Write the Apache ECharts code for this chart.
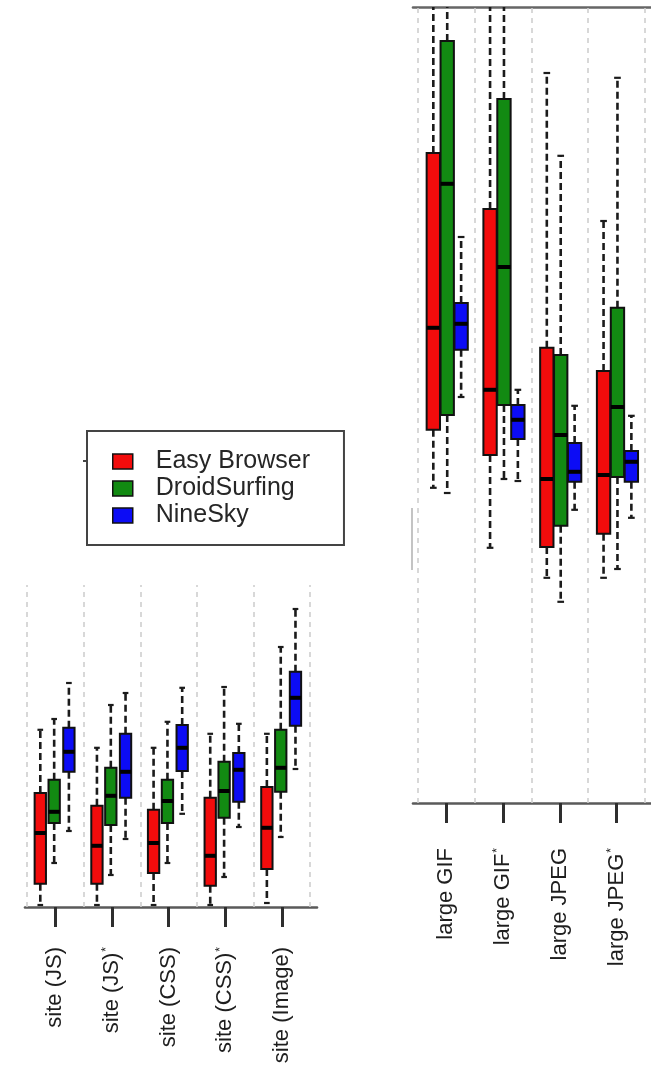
<!DOCTYPE html>
<html>
<head>
<meta charset="utf-8">
<title>Page load times by browser</title>
<script src="https://cdn.jsdelivr.net/npm/echarts@6/dist/echarts.min.js"></script>
<style>
  html, body { margin: 0; padding: 0; background: #ffffff; }
  #chart { width: 651px; height: 1068px; }
</style>
</head>
<body>
<div id="chart"></div>
<script>
// Categories of the two panels
const siteCategories = ['site (JS)', 'site (JS)*', 'site (CSS)', 'site (CSS)*', 'site (Image)'];
const largeCategories = ['large GIF', 'large GIF*', 'large JPEG', 'large JPEG*'];
const browsers = ['Easy Browser', 'DroidSurfing', 'NineSky'];

// Box statistics per category: [lower whisker, Q1, median, Q3, upper whisker]
const siteEasy = [
  [0.05, 0.58, 1.85, 2.85, 4.43],
  [0.05, 0.58, 1.53, 2.53, 3.98],
  [0.05, 0.85, 1.60, 2.43, 3.98],
  [0.05, 0.53, 1.28, 2.73, 4.33],
  [0.10, 0.95, 1.98, 3.00, 4.33]
];
const siteDroid = [
  [1.10, 2.10, 2.38, 3.18, 4.70],
  [0.80, 2.05, 2.78, 3.48, 5.05],
  [1.10, 2.10, 2.65, 3.18, 4.63],
  [0.75, 2.23, 2.90, 3.63, 5.50],
  [1.75, 2.88, 3.48, 4.43, 6.50]
];
const siteNine = [
  [1.90, 3.38, 3.88, 4.48, 5.60],
  [1.70, 2.73, 3.38, 4.33, 5.35],
  [2.33, 3.40, 3.98, 4.55, 5.48],
  [2.00, 2.63, 3.43, 3.85, 4.58],
  [3.45, 4.53, 5.23, 5.88, 7.45]
];
const largeEasy = [
  [7.88, 9.33, 11.88, 16.25, 21.0],
  [6.38, 8.70, 10.33, 14.85, 21.0],
  [5.63, 6.40, 8.10, 11.38, 18.25],
  [5.63, 6.73, 8.20, 10.80, 14.55]
];
const largeDroid = [
  [7.75, 9.70, 15.48, 19.05, 21.0],
  [8.10, 9.95, 13.40, 17.60, 21.0],
  [5.03, 6.93, 9.20, 11.20, 16.18],
  [5.85, 8.15, 9.90, 12.38, 18.13]
];
const largeNine = [
  [10.15, 11.33, 11.98, 12.50, 14.15],
  [8.05, 9.10, 9.58, 9.95, 10.33],
  [7.33, 8.03, 8.28, 9.00, 9.93],
  [7.13, 8.03, 8.53, 8.80, 9.68]
];

const colors = ['#f20c0c', '#128a12', '#0c0cf5'];

// Attach the 1-based category position to each box
function toRows(stats) {
  return stats.map((s, i) => [i + 1].concat(s));
}

// Draws one box with dashed whiskers, staples and a heavy median bar
function boxRenderer(offset, width) {
  return function (params, api) {
    const pos = api.value(0) + offset;
    const pLow = api.coord([pos, api.value(1)]);
    const xc = pLow[0];
    const yLow = pLow[1];
    const yQ1 = api.coord([pos, api.value(2)])[1];
    const yMed = api.coord([pos, api.value(3)])[1];
    const yQ3 = api.coord([pos, api.value(4)])[1];
    const yHigh = api.coord([pos, api.value(5)])[1];
    const w = api.size([width, 0])[0];
    const cap = w / 2;
    const whisker = { stroke: '#1b1b1b', lineWidth: 2.6, lineDash: [7, 4] };
    const staple = { stroke: '#1b1b1b', lineWidth: 2.2 };
    return {
      type: 'group',
      children: [
        { type: 'line', shape: { x1: xc, y1: yQ3, x2: xc, y2: yHigh }, style: whisker },
        { type: 'line', shape: { x1: xc, y1: yQ1, x2: xc, y2: yLow }, style: whisker },
        { type: 'line', shape: { x1: xc - cap / 2, y1: yHigh, x2: xc + cap / 2, y2: yHigh }, style: staple },
        { type: 'line', shape: { x1: xc - cap / 2, y1: yLow, x2: xc + cap / 2, y2: yLow }, style: staple },
        { type: 'rect', shape: { x: xc - w / 2, y: yQ3, width: w, height: yQ1 - yQ3 },
          style: { fill: api.visual('color'), stroke: '#111', lineWidth: 2 } },
        { type: 'line', shape: { x1: xc - w / 2, y1: yMed, x2: xc + w / 2, y2: yMed },
          style: { stroke: '#000', lineWidth: 4 } }
      ]
    };
  };
}

function separators(count) {
  const out = [];
  for (let i = 0; i <= count; i++) out.push({ xAxis: i + 0.5 });
  return out;
}

const sepStyle = { type: [5, 5], color: '#cfcfcf', width: 1.6 };

// Category names with a trailing '*' get a small raised asterisk
function labelText(name) {
  return name.endsWith('*') ? name.slice(0, -1) + '{s|*}' : name;
}

function bottomAxis(gridIndex, min, max, cats, margin, fontSize) {
  const positions = cats.map((c, i) => i + 1);
  return {
    gridIndex: gridIndex, type: 'value', position: 'bottom', min: min, max: max,
    axisLine: { show: true, onZero: false, lineStyle: { color: '#5a5a5a', width: 2.6 } },
    axisTick: { show: true, customValues: positions, length: 20, lineStyle: { color: '#2e2e2e', width: 3 } },
    axisLabel: {
      show: true, customValues: positions, rotate: 90, margin: margin,
      fontSize: fontSize, color: '#1e1e1e', fontFamily: 'Liberation Sans, Arial, sans-serif',
      formatter: function (v) { return labelText(cats[Math.round(v) - 1]); },
      rich: { s: { fontSize: 12, color: '#1e1e1e', verticalAlign: 'top', padding: [0, 0, 8, 1] } }
    },
    splitLine: { show: false }
  };
}

const leftOffsets = [-0.265, -0.02, 0.24];
const rightOffsets = [-0.23, 0.015, 0.26];
const siteStats = [siteEasy, siteDroid, siteNine];
const largeStats = [largeEasy, largeDroid, largeNine];

const series = [
  { type: 'line', xAxisIndex: 0, yAxisIndex: 0, data: [], silent: true, z: 1,
    markLine: { silent: true, symbol: 'none', label: { show: false }, lineStyle: sepStyle,
      data: separators(siteCategories.length) } },
  { type: 'line', xAxisIndex: 1, yAxisIndex: 1, data: [], silent: true, z: 1,
    markLine: { silent: true, symbol: 'none', label: { show: false }, lineStyle: sepStyle,
      data: separators(largeCategories.length) } }
];
browsers.forEach((name, b) => {
  series.push({
    type: 'custom', name: name, xAxisIndex: 0, yAxisIndex: 0, z: 3, clip: true,
    itemStyle: { color: colors[b] },
    renderItem: boxRenderer(leftOffsets[b], 0.2),
    encode: { x: 0, y: [1, 2, 3, 4, 5] },
    data: toRows(siteStats[b])
  });
  series.push({
    type: 'custom', name: name, xAxisIndex: 1, yAxisIndex: 1, z: 3, clip: true,
    itemStyle: { color: colors[b] },
    renderItem: boxRenderer(rightOffsets[b], 0.235),
    encode: { x: 0, y: [1, 2, 3, 4, 5] },
    data: toRows(largeStats[b])
  });
});

const chart = echarts.init(document.getElementById('chart'), null, { renderer: 'canvas' });
chart.setOption({
  animation: false,
  backgroundColor: '#ffffff',
  grid: [
    { left: 25, top: 585, width: 292, height: 322 },
    { left: 413, top: 7, width: 238, height: 796 }
  ],
  xAxis: [
    bottomAxis(0, 0.465, 5.62, siteCategories, 40, 22),
    bottomAxis(1, 0.412, 4.606, largeCategories, 45, 22),
    { gridIndex: 1, type: 'value', position: 'top', min: 0.412, max: 4.606,
      axisLine: { show: true, onZero: false, lineStyle: { color: '#666', width: 2.6 } },
      axisTick: { show: false }, axisLabel: { show: false }, splitLine: { show: false } }
  ],
  yAxis: [
    { gridIndex: 0, type: 'value', min: 0, max: 8.05, show: false, splitLine: { show: false } },
    { gridIndex: 1, type: 'value', min: 0, max: 19.9, show: false, splitLine: { show: false } }
  ],
  legend: {
    data: browsers,
    orient: 'vertical',
    left: 87, top: 431,
    padding: [18, 34, 17, 25],
    itemGap: 2,
    itemWidth: 20, itemHeight: 15,
    icon: 'rect',
    itemStyle: { borderColor: '#111', borderWidth: 1.5 },
    borderColor: '#444', borderWidth: 2,
    selectedMode: false,
    textStyle: { fontSize: 25, lineHeight: 25, color: '#262626',
      fontFamily: 'Liberation Sans, Arial, sans-serif', padding: [0, 0, 0, 18] }
  },
  graphic: [
    { type: 'line', silent: true, shape: { x1: 83, y1: 461, x2: 87, y2: 461 },
      style: { stroke: '#444', lineWidth: 2 } },
    { type: 'line', silent: true, shape: { x1: 412, y1: 508, x2: 412, y2: 570 },
      style: { stroke: '#c4c4c4', lineWidth: 2 } }
  ],
  series: series
});
</script>
</body>
</html>
